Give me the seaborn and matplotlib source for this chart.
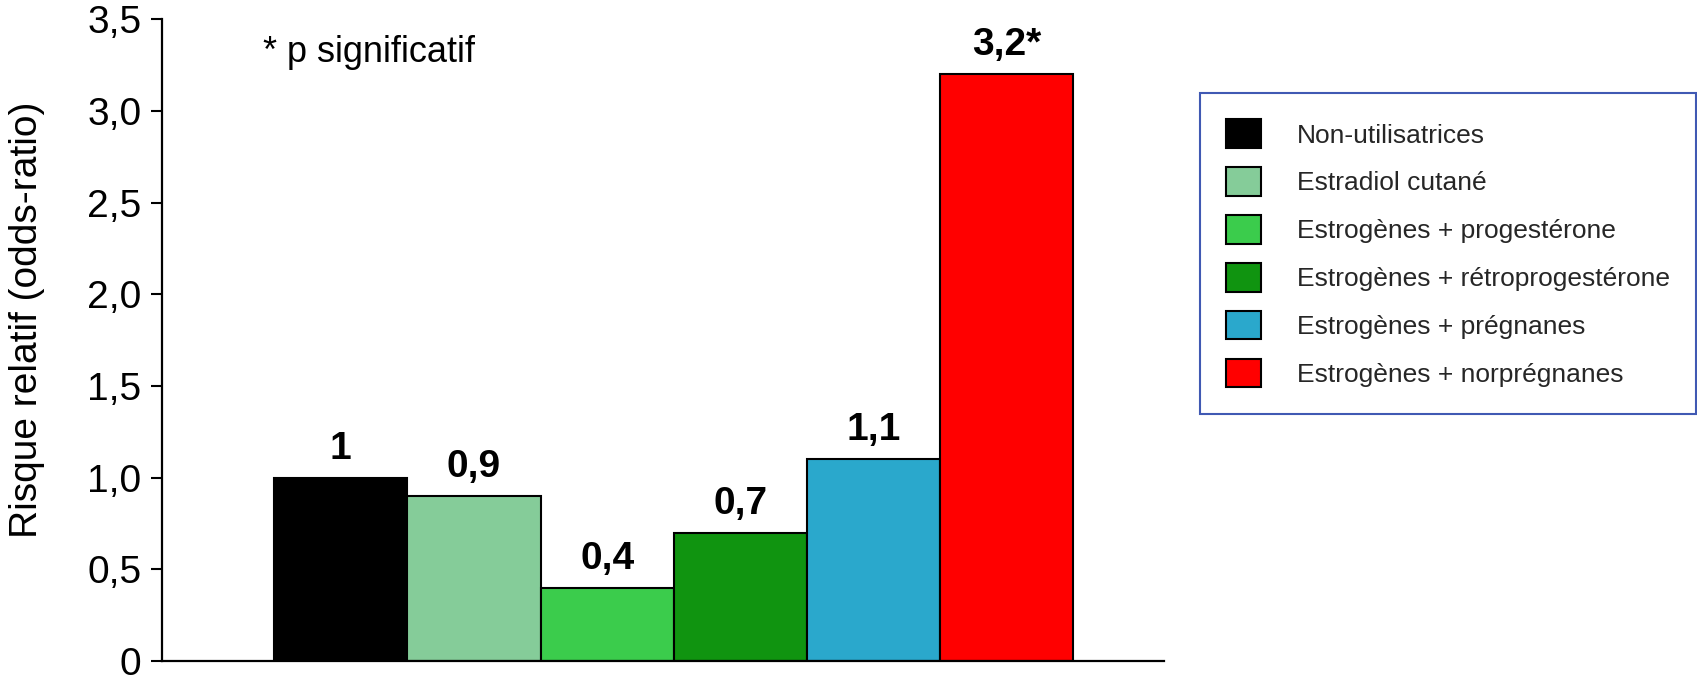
import matplotlib
matplotlib.use("Agg")
import matplotlib.pyplot as plt
import seaborn as sns
import pandas as pd
from matplotlib.patches import Patch

# Odds-ratio per treatment group
categories = [
    "Non-utilisatrices",
    "Estradiol cutané",
    "Estrogènes + progestérone",
    "Estrogènes + rétroprogestérone",
    "Estrogènes + prégnanes",
    "Estrogènes + norprégnanes",
]
odds_ratio = [1.0, 0.9, 0.4, 0.7, 1.1, 3.2]
value_labels = ["1", "0,9", "0,4", "0,7", "1,1", "3,2*"]
bar_colors = ["#000000", "#85CC99", "#3BCC4C", "#109410", "#2AA8CC", "#FF0000"]
y_ticks = [0, 0.5, 1.0, 1.5, 2.0, 2.5, 3.0, 3.5]
y_tick_labels = ["0", "0,5", "1,0", "1,5", "2,0", "2,5", "3,0", "3,5"]

sns.set_theme(style="white")
plt.rcParams["font.family"] = ["Liberation Sans", "DejaVu Sans"]

fig = plt.figure(figsize=(16.97, 6.79), dpi=100)
ax = fig.add_axes([0.0955, 0.0265, 0.5902, 0.9448])

df = pd.DataFrame({"categorie": categories, "risque": odds_ratio})
sns.barplot(
    data=df, x="categorie", y="risque", hue="categorie",
    palette=dict(zip(categories, bar_colors)), saturation=1,
    width=1.0, edgecolor="black", linewidth=1.5, legend=False, ax=ax,
)

ax.set_xlim(-1.343, 6.18)
ax.set_ylim(0, 3.5)
ax.set_yticks(y_ticks)
ax.set_yticklabels(y_tick_labels)
ax.set_xticks([])
ax.set_xlabel("")
ax.set_ylabel("")

for side in ("top", "right"):
    ax.spines[side].set_visible(False)
for side in ("left", "bottom"):
    ax.spines[side].set_color("black")
    ax.spines[side].set_linewidth(1.6)

ax.tick_params(axis="y", left=True, direction="out", length=8, width=1.5,
               pad=7, labelsize=28, colors="black")

# Value labels above each bar
for i, (v, lab) in enumerate(zip(odds_ratio, value_labels)):
    ax.annotate(lab, (i, v), xytext=(0, 8), textcoords="offset points",
                ha="center", va="bottom", fontsize=28, fontweight="bold",
                color="black")

ax.text(-0.584, 3.32, "* p significatif", fontsize=26, ha="left", va="center",
        color="black")

fig.text(27.5 / 1697, 1 - 319.5 / 679, "Risque relatif (odds-ratio)",
         rotation=90, ha="center", va="center", fontsize=28, color="black")

handles = [Patch(facecolor=c, edgecolor="black", linewidth=1.5) for c in bar_colors]
leg = ax.legend(
    handles, categories, loc="upper left",
    bbox_to_anchor=(1200 / 1697, 1 - 93 / 679), bbox_transform=fig.transFigure,
    frameon=True, fancybox=False, fontsize=19,
    handlelength=1.33, handleheight=1.29, handletextpad=1.33,
    labelspacing=0.73, borderpad=1.0, borderaxespad=0,
)
leg.get_frame().set_edgecolor("#1030A0")
leg.get_frame().set_linewidth(1.5)

fig.savefig("out.png", dpi=100)
